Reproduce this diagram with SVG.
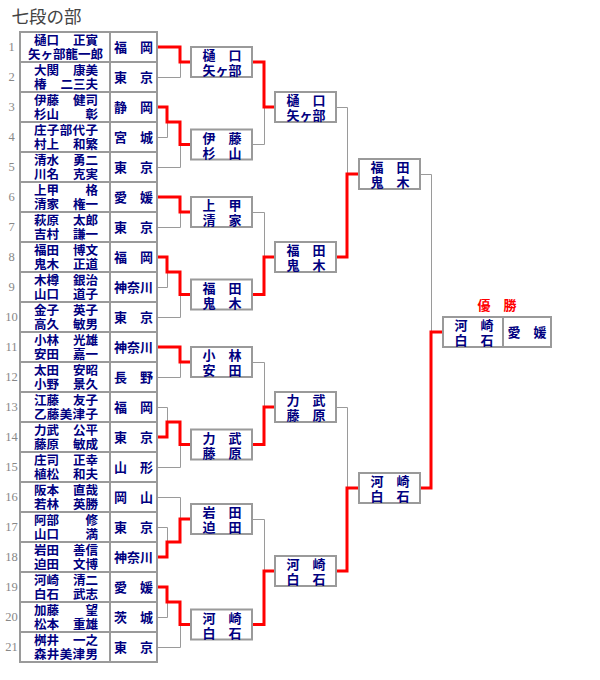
<svg xmlns="http://www.w3.org/2000/svg" width="600" height="680" viewBox="0 0 600 680">
<style>
text{font-family:"Noto Sans CJK JP","Noto Sans CJK SC",sans-serif;fill:#000080}
.nm{font-size:12.5px;font-weight:bold}
.e{text-anchor:end}
.pf{font-size:13px;text-anchor:middle;font-weight:bold}
.bx{font-size:13px;text-anchor:middle;font-weight:bold}
.num{font-family:"Liberation Serif",serif;font-size:12.5px;fill:#888;text-anchor:middle}
.cell{fill:#fff;stroke:#9a9a9a;stroke-width:2}
.dv{stroke:#9a9a9a;stroke-width:2}
.w{fill:none;stroke:#ff0000;stroke-width:3}
.l{fill:none;stroke:#9a9a9a;stroke-width:1}
.title{font-size:17.5px;fill:#444}
.win{font-size:13px;fill:#ff0000;text-anchor:middle;font-weight:bold}
</style>
<rect width="600" height="680" fill="#fff"/>
<text class="title" x="11.5" y="23">七段の部</text>

<g id="connectors">
<path class="l" d="M157,77.5H180.5V62"/>
<path class="l" d="M157,137.5H167.5V122"/>
<path class="l" d="M157,167.5H180.5V144.5"/>
<path class="l" d="M157,227.5H180.5V212"/>
<path class="l" d="M157,287.5H167.5V272"/>
<path class="l" d="M157,317.5H180.5V294.5"/>
<path class="l" d="M157,377.5H180.5V362"/>
<path class="l" d="M157,407.5H167.5V422"/>
<path class="l" d="M157,467.5H180.5V444.5"/>
<path class="l" d="M157,497.5H180.5V519"/>
<path class="l" d="M157,527.5H167.5V542"/>
<path class="l" d="M157,617.5H167.5V602"/>
<path class="l" d="M157,647.5H180.5V624.5"/>
<path class="l" d="M252,144.5H264.5V107"/>
<path class="l" d="M252,212.5H264.5V257"/>
<path class="l" d="M252,362.5H264.5V407"/>
<path class="l" d="M252,519.5H264.5V571"/>
<path class="l" d="M336,107.5H347.5V174"/>
<path class="l" d="M336,407.5H347.5V488"/>
<path class="l" d="M420,174.5H431.5V332"/>
<path class="w" d="M157,47H180V62H191"/>
<path class="w" d="M157,107H167V122H180V144.5H191"/>
<path class="w" d="M157,197H180V212H191"/>
<path class="w" d="M157,257H167V272H180V294.5H191"/>
<path class="w" d="M157,347H180V362H191"/>
<path class="w" d="M157,437H167V422H180V444.5H191"/>
<path class="w" d="M157,557H167V542H180V519H191"/>
<path class="w" d="M157,587H167V602H180V624.5H191"/>
<path class="w" d="M252,62H264V107H275"/>
<path class="w" d="M252,294.5H264V257H275"/>
<path class="w" d="M252,444.5H264V407H275"/>
<path class="w" d="M252,624.5H264V571H275"/>
<path class="w" d="M336,257H347V174H359"/>
<path class="w" d="M336,571H347V488H359"/>
<path class="w" d="M420,488H431V332H443"/>
</g>

<g id="entry-1" transform="translate(0,32)"><rect class="cell" x="20" y="0" width="137" height="30"/><line class="dv" x1="110" y1="0" x2="110" y2="30"/><text class="num" x="11.5" y="19">1</text><text class="nm"><tspan x="34" y="12.5">樋口</tspan><tspan class="e" x="98" y="12.5">正實</tspan><tspan x="28" y="26.5" textLength="75">矢ヶ部龍一郎</tspan></text><text class="pf" x="133.5" y="20">福　岡</text></g>
<g id="entry-2" transform="translate(0,62)"><rect class="cell" x="20" y="0" width="137" height="30"/><line class="dv" x1="110" y1="0" x2="110" y2="30"/><text class="num" x="11.5" y="19">2</text><text class="nm"><tspan x="34" y="12.5">大関</tspan><tspan class="e" x="98" y="12.5">康美</tspan><tspan x="34" y="26.5">椿</tspan><tspan class="e" x="98" y="26.5">二三夫</tspan></text><text class="pf" x="133.5" y="20">東　京</text></g>
<g id="entry-3" transform="translate(0,92)"><rect class="cell" x="20" y="0" width="137" height="30"/><line class="dv" x1="110" y1="0" x2="110" y2="30"/><text class="num" x="11.5" y="19">3</text><text class="nm"><tspan x="34" y="12.5">伊藤</tspan><tspan class="e" x="98" y="12.5">健司</tspan><tspan x="34" y="26.5">杉山</tspan><tspan class="e" x="98" y="26.5">彰</tspan></text><text class="pf" x="133.5" y="20">静　岡</text></g>
<g id="entry-4" transform="translate(0,122)"><rect class="cell" x="20" y="0" width="137" height="30"/><line class="dv" x1="110" y1="0" x2="110" y2="30"/><text class="num" x="11.5" y="19">4</text><text class="nm"><tspan x="34" y="12.5" textLength="64">庄子部代子</tspan><tspan x="34" y="26.5">村上</tspan><tspan class="e" x="98" y="26.5">和繁</tspan></text><text class="pf" x="133.5" y="20">宮　城</text></g>
<g id="entry-5" transform="translate(0,152)"><rect class="cell" x="20" y="0" width="137" height="30"/><line class="dv" x1="110" y1="0" x2="110" y2="30"/><text class="num" x="11.5" y="19">5</text><text class="nm"><tspan x="34" y="12.5">清水</tspan><tspan class="e" x="98" y="12.5">勇二</tspan><tspan x="34" y="26.5">川名</tspan><tspan class="e" x="98" y="26.5">克実</tspan></text><text class="pf" x="133.5" y="20">東　京</text></g>
<g id="entry-6" transform="translate(0,182)"><rect class="cell" x="20" y="0" width="137" height="30"/><line class="dv" x1="110" y1="0" x2="110" y2="30"/><text class="num" x="11.5" y="19">6</text><text class="nm"><tspan x="34" y="12.5">上甲</tspan><tspan class="e" x="98" y="12.5">格</tspan><tspan x="34" y="26.5">清家</tspan><tspan class="e" x="98" y="26.5">権一</tspan></text><text class="pf" x="133.5" y="20">愛　媛</text></g>
<g id="entry-7" transform="translate(0,212)"><rect class="cell" x="20" y="0" width="137" height="30"/><line class="dv" x1="110" y1="0" x2="110" y2="30"/><text class="num" x="11.5" y="19">7</text><text class="nm"><tspan x="34" y="12.5">萩原</tspan><tspan class="e" x="98" y="12.5">太郎</tspan><tspan x="34" y="26.5">吉村</tspan><tspan class="e" x="98" y="26.5">謙一</tspan></text><text class="pf" x="133.5" y="20">東　京</text></g>
<g id="entry-8" transform="translate(0,242)"><rect class="cell" x="20" y="0" width="137" height="30"/><line class="dv" x1="110" y1="0" x2="110" y2="30"/><text class="num" x="11.5" y="19">8</text><text class="nm"><tspan x="34" y="12.5">福田</tspan><tspan class="e" x="98" y="12.5">博文</tspan><tspan x="34" y="26.5">鬼木</tspan><tspan class="e" x="98" y="26.5">正道</tspan></text><text class="pf" x="133.5" y="20">福　岡</text></g>
<g id="entry-9" transform="translate(0,272)"><rect class="cell" x="20" y="0" width="137" height="30"/><line class="dv" x1="110" y1="0" x2="110" y2="30"/><text class="num" x="11.5" y="19">9</text><text class="nm"><tspan x="34" y="12.5">木樽</tspan><tspan class="e" x="98" y="12.5">銀治</tspan><tspan x="34" y="26.5">山口</tspan><tspan class="e" x="98" y="26.5">道子</tspan></text><text class="pf" x="133.5" y="20">神奈川</text></g>
<g id="entry-10" transform="translate(0,302)"><rect class="cell" x="20" y="0" width="137" height="30"/><line class="dv" x1="110" y1="0" x2="110" y2="30"/><text class="num" x="11.5" y="19">10</text><text class="nm"><tspan x="34" y="12.5">金子</tspan><tspan class="e" x="98" y="12.5">英子</tspan><tspan x="34" y="26.5">高久</tspan><tspan class="e" x="98" y="26.5">敏男</tspan></text><text class="pf" x="133.5" y="20">東　京</text></g>
<g id="entry-11" transform="translate(0,332)"><rect class="cell" x="20" y="0" width="137" height="30"/><line class="dv" x1="110" y1="0" x2="110" y2="30"/><text class="num" x="11.5" y="19">11</text><text class="nm"><tspan x="34" y="12.5">小林</tspan><tspan class="e" x="98" y="12.5">光雄</tspan><tspan x="34" y="26.5">安田</tspan><tspan class="e" x="98" y="26.5">嘉一</tspan></text><text class="pf" x="133.5" y="20">神奈川</text></g>
<g id="entry-12" transform="translate(0,362)"><rect class="cell" x="20" y="0" width="137" height="30"/><line class="dv" x1="110" y1="0" x2="110" y2="30"/><text class="num" x="11.5" y="19">12</text><text class="nm"><tspan x="34" y="12.5">太田</tspan><tspan class="e" x="98" y="12.5">安昭</tspan><tspan x="34" y="26.5">小野</tspan><tspan class="e" x="98" y="26.5">景久</tspan></text><text class="pf" x="133.5" y="20">長　野</text></g>
<g id="entry-13" transform="translate(0,392)"><rect class="cell" x="20" y="0" width="137" height="30"/><line class="dv" x1="110" y1="0" x2="110" y2="30"/><text class="num" x="11.5" y="19">13</text><text class="nm"><tspan x="34" y="12.5">江藤</tspan><tspan class="e" x="98" y="12.5">友子</tspan><tspan x="34" y="26.5" textLength="64">乙藤美津子</tspan></text><text class="pf" x="133.5" y="20">福　岡</text></g>
<g id="entry-14" transform="translate(0,422)"><rect class="cell" x="20" y="0" width="137" height="30"/><line class="dv" x1="110" y1="0" x2="110" y2="30"/><text class="num" x="11.5" y="19">14</text><text class="nm"><tspan x="34" y="12.5">力武</tspan><tspan class="e" x="98" y="12.5">公平</tspan><tspan x="34" y="26.5">藤原</tspan><tspan class="e" x="98" y="26.5">敏成</tspan></text><text class="pf" x="133.5" y="20">東　京</text></g>
<g id="entry-15" transform="translate(0,452)"><rect class="cell" x="20" y="0" width="137" height="30"/><line class="dv" x1="110" y1="0" x2="110" y2="30"/><text class="num" x="11.5" y="19">15</text><text class="nm"><tspan x="34" y="12.5">庄司</tspan><tspan class="e" x="98" y="12.5">正幸</tspan><tspan x="34" y="26.5">植松</tspan><tspan class="e" x="98" y="26.5">和夫</tspan></text><text class="pf" x="133.5" y="20">山　形</text></g>
<g id="entry-16" transform="translate(0,482)"><rect class="cell" x="20" y="0" width="137" height="30"/><line class="dv" x1="110" y1="0" x2="110" y2="30"/><text class="num" x="11.5" y="19">16</text><text class="nm"><tspan x="34" y="12.5">阪本</tspan><tspan class="e" x="98" y="12.5">直哉</tspan><tspan x="34" y="26.5">若林</tspan><tspan class="e" x="98" y="26.5">英勝</tspan></text><text class="pf" x="133.5" y="20">岡　山</text></g>
<g id="entry-17" transform="translate(0,512)"><rect class="cell" x="20" y="0" width="137" height="30"/><line class="dv" x1="110" y1="0" x2="110" y2="30"/><text class="num" x="11.5" y="19">17</text><text class="nm"><tspan x="34" y="12.5">阿部</tspan><tspan class="e" x="98" y="12.5">修</tspan><tspan x="34" y="26.5">山口</tspan><tspan class="e" x="98" y="26.5">満</tspan></text><text class="pf" x="133.5" y="20">東　京</text></g>
<g id="entry-18" transform="translate(0,542)"><rect class="cell" x="20" y="0" width="137" height="30"/><line class="dv" x1="110" y1="0" x2="110" y2="30"/><text class="num" x="11.5" y="19">18</text><text class="nm"><tspan x="34" y="12.5">岩田</tspan><tspan class="e" x="98" y="12.5">善信</tspan><tspan x="34" y="26.5">迫田</tspan><tspan class="e" x="98" y="26.5">文博</tspan></text><text class="pf" x="133.5" y="20">神奈川</text></g>
<g id="entry-19" transform="translate(0,572)"><rect class="cell" x="20" y="0" width="137" height="30"/><line class="dv" x1="110" y1="0" x2="110" y2="30"/><text class="num" x="11.5" y="19">19</text><text class="nm"><tspan x="34" y="12.5">河崎</tspan><tspan class="e" x="98" y="12.5">清二</tspan><tspan x="34" y="26.5">白石</tspan><tspan class="e" x="98" y="26.5">武志</tspan></text><text class="pf" x="133.5" y="20">愛　媛</text></g>
<g id="entry-20" transform="translate(0,602)"><rect class="cell" x="20" y="0" width="137" height="30"/><line class="dv" x1="110" y1="0" x2="110" y2="30"/><text class="num" x="11.5" y="19">20</text><text class="nm"><tspan x="34" y="12.5">加藤</tspan><tspan class="e" x="98" y="12.5">望</tspan><tspan x="34" y="26.5">松本</tspan><tspan class="e" x="98" y="26.5">重雄</tspan></text><text class="pf" x="133.5" y="20">茨　城</text></g>
<g id="entry-21" transform="translate(0,632)"><rect class="cell" x="20" y="0" width="137" height="30"/><line class="dv" x1="110" y1="0" x2="110" y2="30"/><text class="num" x="11.5" y="19">21</text><text class="nm"><tspan x="34" y="12.5">桝井</tspan><tspan class="e" x="98" y="12.5">一之</tspan><tspan x="34" y="26.5" textLength="64">森井美津男</tspan></text><text class="pf" x="133.5" y="20">東　京</text></g>

<g id="r2-1" transform="translate(191,47)"><rect class="cell" width="61" height="30"/><text class="bx"><tspan x="31" y="13">樋　口</tspan><tspan x="31" y="28">矢ヶ部</tspan></text></g>
<g id="r2-2" transform="translate(191,129.5)"><rect class="cell" width="61" height="30"/><text class="bx"><tspan x="31" y="13">伊　藤</tspan><tspan x="31" y="28">杉　山</tspan></text></g>
<g id="r2-3" transform="translate(191,197)"><rect class="cell" width="61" height="30"/><text class="bx"><tspan x="31" y="13">上　甲</tspan><tspan x="31" y="28">清　家</tspan></text></g>
<g id="r2-4" transform="translate(191,279.5)"><rect class="cell" width="61" height="30"/><text class="bx"><tspan x="31" y="13">福　田</tspan><tspan x="31" y="28">鬼　木</tspan></text></g>
<g id="r2-5" transform="translate(191,347)"><rect class="cell" width="61" height="30"/><text class="bx"><tspan x="31" y="13">小　林</tspan><tspan x="31" y="28">安　田</tspan></text></g>
<g id="r2-6" transform="translate(191,429.5)"><rect class="cell" width="61" height="30"/><text class="bx"><tspan x="31" y="13">力　武</tspan><tspan x="31" y="28">藤　原</tspan></text></g>
<g id="r2-7" transform="translate(191,504)"><rect class="cell" width="61" height="30"/><text class="bx"><tspan x="31" y="13">岩　田</tspan><tspan x="31" y="28">迫　田</tspan></text></g>
<g id="r2-8" transform="translate(191,609.5)"><rect class="cell" width="61" height="30"/><text class="bx"><tspan x="31" y="13">河　崎</tspan><tspan x="31" y="28">白　石</tspan></text></g>

<g id="r3-1" transform="translate(275,92)"><rect class="cell" width="61" height="30"/><text class="bx"><tspan x="31" y="13">樋　口</tspan><tspan x="31" y="28">矢ヶ部</tspan></text></g>
<g id="r3-2" transform="translate(275,242)"><rect class="cell" width="61" height="30"/><text class="bx"><tspan x="31" y="13">福　田</tspan><tspan x="31" y="28">鬼　木</tspan></text></g>
<g id="r3-3" transform="translate(275,392)"><rect class="cell" width="61" height="30"/><text class="bx"><tspan x="31" y="13">力　武</tspan><tspan x="31" y="28">藤　原</tspan></text></g>
<g id="r3-4" transform="translate(275,556)"><rect class="cell" width="61" height="30"/><text class="bx"><tspan x="31" y="13">河　崎</tspan><tspan x="31" y="28">白　石</tspan></text></g>

<g id="r4-1" transform="translate(359,159)"><rect class="cell" width="61" height="30"/><text class="bx"><tspan x="31" y="13">福　田</tspan><tspan x="31" y="28">鬼　木</tspan></text></g>
<g id="r4-2" transform="translate(359,473)"><rect class="cell" width="61" height="30"/><text class="bx"><tspan x="31" y="13">河　崎</tspan><tspan x="31" y="28">白　石</tspan></text></g>

<g id="champion" transform="translate(443,317)"><text class="win" x="54" y="-7">優　勝</text><rect class="cell" width="108" height="30"/><line class="dv" x1="60" y1="0" x2="60" y2="30"/><text class="bx"><tspan x="31" y="13">河　崎</tspan><tspan x="31" y="28">白　石</tspan></text><text class="bx" x="84" y="20">愛　媛</text></g>
</svg>
